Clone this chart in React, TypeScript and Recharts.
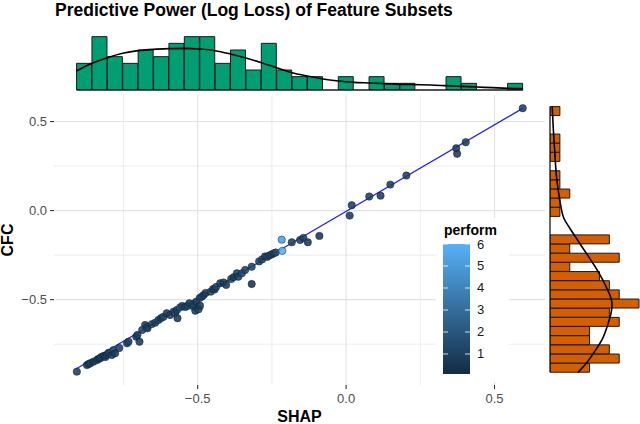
import React from 'react';
import {
  ScatterChart,
  ComposedChart,
  LineChart,
  Scatter,
  Bar,
  Line,
  XAxis,
  YAxis,
  ReferenceLine,
  Label,
} from 'recharts';

const FONT = '"Liberation Sans", Arial, Helvetica, sans-serif';

const TITLE = 'Predictive Power (Log Loss) of Feature Subsets';
const X_TITLE = 'SHAP';
const Y_TITLE = 'CFC';
const LEGEND_TITLE = 'perform';

// ---- scatter data ----
const SHAP = [
  -0.907, -0.873, -0.867, -0.862,
  -0.851, -0.839, -0.835, -0.828, -0.825, -0.817, -0.811, -0.806,
  -0.800, -0.789, -0.784, -0.778, -0.764,
  -0.738, -0.733, -0.707, -0.703,
  -0.696, -0.687, -0.677, -0.671, -0.669, -0.654,
  -0.643, -0.632, -0.623, -0.615, -0.604,
  -0.593, -0.581, -0.576, -0.570, -0.568, -0.559, -0.552,
  -0.542, -0.534, -0.528, -0.514, -0.514, -0.508, -0.505, -0.497,
  -0.493, -0.492, -0.486, -0.480, -0.473, -0.456, -0.448, -0.443,
  -0.438, -0.424, -0.413, -0.404,
  -0.387, -0.379, -0.368, -0.363, -0.351, -0.340,
  -0.318, -0.318, -0.293,
  -0.283, -0.273, -0.266, -0.259, -0.251, -0.244, -0.237,
  -0.215, -0.217, -0.183,
  -0.155, -0.144,
  -0.129, -0.090,
  0.012, 0.019,
  0.078, 0.116,
  0.149, 0.203, 0.371, 0.374, 0.403, 0.595,
];
const CFC = [
  -0.904, -0.867, -0.861, -0.857,
  -0.848, -0.839, -0.833, -0.829, -0.822, -0.816, -0.822, -0.811,
  -0.798, -0.811, -0.783, -0.801, -0.771,
  -0.745, -0.736, -0.708, -0.698,
  -0.736, -0.670, -0.642, -0.652, -0.661, -0.637,
  -0.629, -0.614, -0.603, -0.596, -0.576,
  -0.586, -0.567, -0.575, -0.558, -0.604, -0.543, -0.535,
  -0.541, -0.535, -0.520, -0.526, -0.539, -0.562, -0.511, -0.554,
  -0.490, -0.534, -0.483, -0.474, -0.462, -0.455, -0.440, -0.443,
  -0.429, -0.408, -0.404, -0.417,
  -0.384, -0.374, -0.352, -0.371, -0.352, -0.333,
  -0.315, -0.412, -0.285,
  -0.274, -0.257, -0.260, -0.252, -0.246, -0.240, -0.235,
  -0.226, -0.163, -0.178,
  -0.165, -0.153,
  -0.178, -0.142,
  -0.028, 0.030,
  0.079, 0.084,
  0.146, 0.197, 0.350, 0.319, 0.384, 0.575,
];
const PERFORM = [
  0.8, 0.7, 1.0, 0.9,
  0.6, 1.3, 0.8, 0.9, 1.1, 0.7, 0.8, 1.0,
  0.9, 0.8, 1.2, 0.7, 1.0,
  0.9, 1.1, 0.8, 1.0,
  0.7, 1.2, 0.9, 1.5, 0.8, 1.0,
  0.9, 1.1, 0.7, 1.3, 0.8,
  0.9, 1.0, 1.4, 0.8, 0.7, 2.0, 1.1,
  0.9, 1.2, 0.8, 1.6, 1.0, 0.7, 0.9, 1.1,
  1.0, 0.6, 1.3, 0.9, 0.8, 1.2, 1.0, 0.9,
  1.1, 0.8, 1.0, 0.9,
  1.2, 0.8, 1.0, 0.9, 1.3, 1.1,
  1.2, 0.5, 1.0,
  1.1, 0.9, 1.3, 1.0, 1.2, 0.9, 1.4,
  6.0, 5.2, 1.0,
  1.1, 0.9,
  0.7, 0.6,
  0.8, 0.9,
  1.0, 0.8,
  0.9, 1.0, 0.8, 0.7, 0.9, 1.0,
];

// linear fit (blue line) end points
const FIT_X = [-0.909, 0.595];
const FIT_Y = [-0.888, 0.574];

// ---- marginal histogram of SHAP (top) ----
const X_BIN_EDGES = [
  -0.908, -0.8561, -0.8043, -0.7524, -0.7006, -0.6487, -0.5968, -0.545, -0.4931, -0.4413,
  -0.3894, -0.3375, -0.2857, -0.2338, -0.182, -0.1301, -0.0782, -0.0264, 0.0255, 0.0773,
  0.1292, 0.1811, 0.2329, 0.2848, 0.3366, 0.3885, 0.4404, 0.4922, 0.5441, 0.5959,
];
const X_BIN_COUNTS = [4, 8, 5, 4, 6, 5, 7, 8, 8, 4, 6, 3, 7, 3, 2, 2, 0, 2, 0, 2, 1, 1, 0, 0, 2, 1, 0, 0, 1];
// density curve (in count units) at the bin edges
const X_DENSITY = [
  2.85, 4.0, 4.85, 5.5, 5.9, 6.1, 6.2, 6.25, 6.15, 5.9, 5.4, 4.8, 4.1, 3.35, 2.6,
  2.1, 1.65, 1.35, 1.15, 1.05, 0.95, 0.85, 0.8, 0.75, 0.65, 0.55, 0.45, 0.35, 0.25, 0.2,
];

// ---- marginal histogram of CFC (right) ----
const Y_BIN_EDGES = [
  -0.908, -0.8566, -0.8051, -0.7537, -0.7022, -0.6508, -0.5993, -0.5479, -0.4964, -0.445,
  -0.3935, -0.3421, -0.2906, -0.2392, -0.1877, -0.1363, -0.0848, -0.0334, 0.0181, 0.0696,
  0.121, 0.1725, 0.2239, 0.2754, 0.3268, 0.3783, 0.4297, 0.4812, 0.5326, 0.584,
];
const Y_BIN_COUNTS = [4, 7, 6, 4, 4, 7, 6, 9, 7, 6, 5, 2, 7, 2, 6, 0, 0, 1, 1, 2, 1, 1, 0, 1, 1, 1, 0, 0, 1];
const Y_DENSITY_AT = [
  -0.908, -0.857, -0.792, -0.717, -0.642, -0.576, -0.53, -0.492, -0.446, -0.389, -0.324,
  -0.267, -0.211, -0.155, -0.099, -0.043, 0.032, 0.088, 0.182, 0.313, 0.463, 0.575, 0.584,
];
const Y_DENSITY = [
  2.83, 3.67, 4.5, 5.33, 5.83, 6.17, 6.27, 6.17, 5.83, 5.33, 4.67,
  4.0, 3.33, 2.67, 2.0, 1.4, 1.07, 0.9, 0.67, 0.5, 0.33, 0.23, 0.22,
];

// ---- axes ----
const X_DOMAIN: [number, number] = [-0.984, 0.67];
const Y_DOMAIN: [number, number] = [-0.979, 0.649];
const MAJOR_TICKS = [-0.5, 0, 0.5];
const MINOR_GRID = [-0.75, -0.25, 0.25];
const TOP_COUNT_DOMAIN: [number, number] = [0, 8.4];
const RIGHT_COUNT_DOMAIN: [number, number] = [0, 9.1];

// ---- colour legend ----
const LEGEND_TICKS = [1, 2, 3, 4, 5, 6];
const PERFORM_RANGE = [0.09, 6.0];
const LOW = [0x13, 0x2b, 0x43];
const HIGH = [0x56, 0xb1, 0xf7];

function perfColor(v: number) {
  const t = Math.max(0, Math.min(1, (v - PERFORM_RANGE[0]) / (PERFORM_RANGE[1] - PERFORM_RANGE[0])));
  const c = LOW.map((l, i) => Math.round(l + (HIGH[i] - l) * t));
  return `rgb(${c[0]},${c[1]},${c[2]})`;
}

const points = SHAP.map((x, i) => ({ x, y: CFC[i], perform: PERFORM[i] }));
const fitData = FIT_X.map((x, i) => ({ x, y: FIT_Y[i] }));
const xBins = X_BIN_COUNTS.map((count, i) => ({ x: (X_BIN_EDGES[i] + X_BIN_EDGES[i + 1]) / 2, count }));
const xDensity = X_BIN_EDGES.map((x, i) => ({ x, d: X_DENSITY[i] }));
const yBins = Y_BIN_COUNTS.map((count, i) => ({ y: (Y_BIN_EDGES[i] + Y_BIN_EDGES[i + 1]) / 2, count }));
const yDensity = Y_DENSITY_AT.map((y, i) => ({ y, d: Y_DENSITY[i] }));

const fmt = (v: number) => (v === 0 ? '0.0' : v.toFixed(1).replace('-', '\u2212'));

const renderPoint = (p: any) => {
  const col = perfColor(p.payload.perform);
  return (
    <circle cx={p.cx} cy={p.cy} r={3.7} fill={col} fillOpacity={0.88} stroke="#0e2033" strokeOpacity={0.55} strokeWidth={0.9} />
  );
};

const layer: React.CSSProperties = { position: 'absolute', left: 0, top: 0 };

const MAIN_MARGIN = { top: 95, right: 95, bottom: 0, left: 0 };
const TOP_MARGIN = { top: 34, right: 95, bottom: 334, left: 54 };
const RIGHT_MARGIN = { top: 95, right: 0, bottom: 39, left: 550 };

function ColourLegend() {
  const bar = { x: 443, y: 244, w: 27, h: 130 };
  const ly = (v: number) => bar.y + bar.h - ((v - PERFORM_RANGE[0]) / (PERFORM_RANGE[1] - PERFORM_RANGE[0])) * bar.h;
  const lowCol = perfColor(PERFORM_RANGE[0]);
  const highCol = perfColor(PERFORM_RANGE[1]);
  return (
    <svg width={640} height={424} style={layer}>
      <defs>
        <linearGradient id="perfGrad" x1="0" y1="1" x2="0" y2="0">
          <stop offset="0%" stopColor={lowCol} />
          <stop offset="100%" stopColor={highCol} />
        </linearGradient>
      </defs>
      <rect x={436} y={218} width={73} height={164} fill="#ffffff" />
      <text x={444} y={235} fontFamily={FONT} fontWeight={700} fontSize={14} fill="#000">
        {LEGEND_TITLE}
      </text>
      <rect x={bar.x} y={bar.y} width={bar.w} height={bar.h} fill="url(#perfGrad)" />
      {LEGEND_TICKS.map((v) => (
        <g key={v}>
          <line x1={bar.x} x2={bar.x + 5} y1={ly(v)} y2={ly(v)} stroke="#ffffff" strokeOpacity={0.8} strokeWidth={1} />
          <line x1={bar.x + bar.w - 5} x2={bar.x + bar.w} y1={ly(v)} y2={ly(v)} stroke="#ffffff" strokeOpacity={0.8} strokeWidth={1} />
          <text x={477} y={ly(v)} dominantBaseline="central" fontFamily={FONT} fontSize={13} fill="#1a1a1a">
            {v}
          </text>
        </g>
      ))}
    </svg>
  );
}

export default function App() {
  const tickStyle = { fill: '#4d4d4d', fontSize: 13, fontFamily: FONT };
  const titleStyle = { fontWeight: 700, fontSize: 16, fill: '#000', fontFamily: FONT };
  return (
    <div style={{ position: 'absolute', left: 0, top: 0, width: 640, height: 424, background: '#fff', overflow: 'hidden' }}>
      <div style={layer}>
        <ScatterChart width={640} height={424} margin={MAIN_MARGIN}>
          {MINOR_GRID.map((v) => (
            <ReferenceLine key={'mx' + v} x={v} stroke="#ebebeb" strokeWidth={0.9} />
          ))}
          {MINOR_GRID.map((v) => (
            <ReferenceLine key={'my' + v} y={v} stroke="#ebebeb" strokeWidth={0.9} />
          ))}
          {MAJOR_TICKS.map((v) => (
            <ReferenceLine key={'Mx' + v} x={v} stroke="#e3e3e3" strokeWidth={1.1} />
          ))}
          {MAJOR_TICKS.map((v) => (
            <ReferenceLine key={'My' + v} y={v} stroke="#e3e3e3" strokeWidth={1.1} />
          ))}
          <XAxis
            type="number"
            dataKey="x"
            domain={X_DOMAIN}
            ticks={MAJOR_TICKS}
            tickFormatter={fmt}
            allowDataOverflow
            axisLine={false}
            tickLine={{ stroke: '#333333', strokeWidth: 1.1 }}
            tickSize={4}
            tickMargin={5}
            height={39}
            tick={tickStyle}
          >
            <Label value={X_TITLE} position="insideBottom" offset={2.5} style={titleStyle} />
          </XAxis>
          <YAxis
            type="number"
            dataKey="y"
            domain={Y_DOMAIN}
            ticks={MAJOR_TICKS}
            tickFormatter={fmt}
            allowDataOverflow
            axisLine={false}
            tickLine={{ stroke: '#333333', strokeWidth: 1.1 }}
            tickSize={4}
            tickMargin={3}
            width={54}
            tick={tickStyle}
          >
            <Label value={Y_TITLE} angle={-90} position="center" dx={-20} style={titleStyle} />
          </YAxis>
          <Scatter
            data={fitData}
            line={{ stroke: '#1f1fff', strokeWidth: 1.2 }}
            shape={() => <g />}
            isAnimationActive={false}
          />
          <Scatter data={points} shape={renderPoint} isAnimationActive={false} />
        </ScatterChart>
      </div>

      <ColourLegend />

      <div style={layer}>
        <ComposedChart width={640} height={424} data={xBins} margin={TOP_MARGIN} barCategoryGap={0} barGap={0}>
          <XAxis type="number" dataKey="x" domain={X_DOMAIN} hide allowDataOverflow />
          <YAxis type="number" domain={TOP_COUNT_DOMAIN} hide allowDataOverflow />
          <Bar dataKey="count" fill="#009E73" stroke="#1a1a1a" strokeWidth={1} isAnimationActive={false} />
          <ReferenceLine
            segment={[
              { x: X_BIN_EDGES[0], y: 0 },
              { x: X_BIN_EDGES[X_BIN_EDGES.length - 1], y: 0 },
            ]}
            stroke="#1a1a1a"
            strokeWidth={1.3}
          />
        </ComposedChart>
      </div>
      <div style={layer}>
        <LineChart width={640} height={424} data={xDensity} margin={TOP_MARGIN}>
          <XAxis type="number" dataKey="x" domain={X_DOMAIN} hide allowDataOverflow />
          <YAxis type="number" domain={TOP_COUNT_DOMAIN} hide allowDataOverflow />
          <Line dataKey="d" type="monotone" dot={false} stroke="#000" strokeWidth={1.6} isAnimationActive={false} />
        </LineChart>
      </div>

      <div style={layer}>
        <ComposedChart
          width={640}
          height={424}
          data={yBins}
          layout="vertical"
          margin={RIGHT_MARGIN}
          barCategoryGap={0}
          barGap={0}
        >
          <XAxis type="number" domain={RIGHT_COUNT_DOMAIN} hide allowDataOverflow />
          <YAxis type="number" dataKey="y" domain={Y_DOMAIN} reversed hide allowDataOverflow />
          <Bar dataKey="count" fill="#D55E00" stroke="#1a1a1a" strokeWidth={1} isAnimationActive={false} />
          <ReferenceLine
            segment={[
              { x: 0, y: Y_BIN_EDGES[0] },
              { x: 0, y: Y_BIN_EDGES[Y_BIN_EDGES.length - 1] },
            ]}
            stroke="#1a1a1a"
            strokeWidth={1.3}
          />
        </ComposedChart>
      </div>
      <div style={layer}>
        <LineChart width={640} height={424} data={yDensity} layout="vertical" margin={RIGHT_MARGIN}>
          <XAxis type="number" domain={RIGHT_COUNT_DOMAIN} hide allowDataOverflow />
          <YAxis type="number" dataKey="y" domain={Y_DOMAIN} reversed hide allowDataOverflow />
          <Line dataKey="d" type="monotone" dot={false} stroke="#000" strokeWidth={1.6} isAnimationActive={false} />
        </LineChart>
      </div>

      <div
        style={{
          position: 'absolute',
          left: 55,
          top: 0,
          fontFamily: FONT,
          fontWeight: 700,
          fontSize: 17.5,
          lineHeight: '20px',
          color: '#000',
          whiteSpace: 'nowrap',
        }}
      >
        {TITLE}
      </div>
    </div>
  );
}
